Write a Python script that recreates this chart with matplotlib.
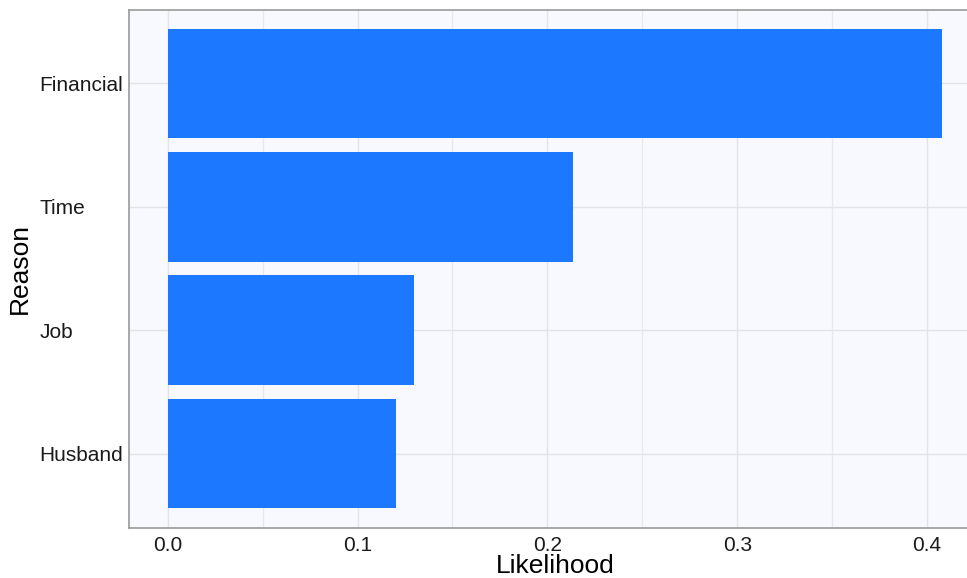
import matplotlib
matplotlib.use("Agg")
import matplotlib.pyplot as plt
from matplotlib.ticker import MultipleLocator

# data, bottom to top
reasons = ["Husband", "Job", "Time", "Financial"]
likelihood = [0.120, 0.1296, 0.2134, 0.408]
x_ticks = [0.0, 0.1, 0.2, 0.3, 0.4]
x_tick_labels = ["0.0", "0.1", "0.2", "0.3", "0.4"]

plt.rcParams["font.family"] = ["Liberation Sans", "DejaVu Sans"]

fig = plt.figure(figsize=(9.67, 5.78), dpi=100)
ax = fig.add_axes([129 / 967, 50.5 / 578, 852 / 967, 518 / 578])
ax.set_facecolor("ghostwhite")

positions = list(range(1, len(reasons) + 1))
ax.barh(positions, likelihood, height=0.89, color="#1b78ff", zorder=3)

ax.set_xlim(-0.0204, 0.4284)
ax.set_ylim(0.4, 4.6)
ax.set_xticks(x_ticks)
ax.set_xticklabels(x_tick_labels)
ax.xaxis.set_minor_locator(MultipleLocator(0.05))
ax.set_yticks(positions)
ax.set_yticklabels(reasons)

ax.grid(True, which="major", color="#e3e3e8", linewidth=1.0, zorder=0)
ax.grid(True, which="minor", axis="x", color="#e8e8ee", linewidth=0.9, zorder=0)
ax.set_axisbelow(True)

ax.tick_params(axis="both", which="both", length=0, labelsize=15, colors="#1a1a1a")
ax.tick_params(axis="x", pad=6)
ax.tick_params(axis="y", pad=64.5)
for lab in ax.get_yticklabels():
    lab.set_horizontalalignment("left")

for side in ["left", "top", "bottom"]:
    ax.spines[side].set_color("#9a9a9a")
    ax.spines[side].set_linewidth(1.2)
ax.spines["right"].set_visible(False)

ax.set_xlabel("Likelihood", fontsize=19)
ax.xaxis.set_label_coords(555 / 967, 1 - 554 / 578, transform=fig.transFigure)
fig.text(20 / 967, 1 - 268.5 / 578, "Reason", rotation=90, fontsize=19,
         ha="center", va="center")

fig.savefig("out.png", dpi=100)
